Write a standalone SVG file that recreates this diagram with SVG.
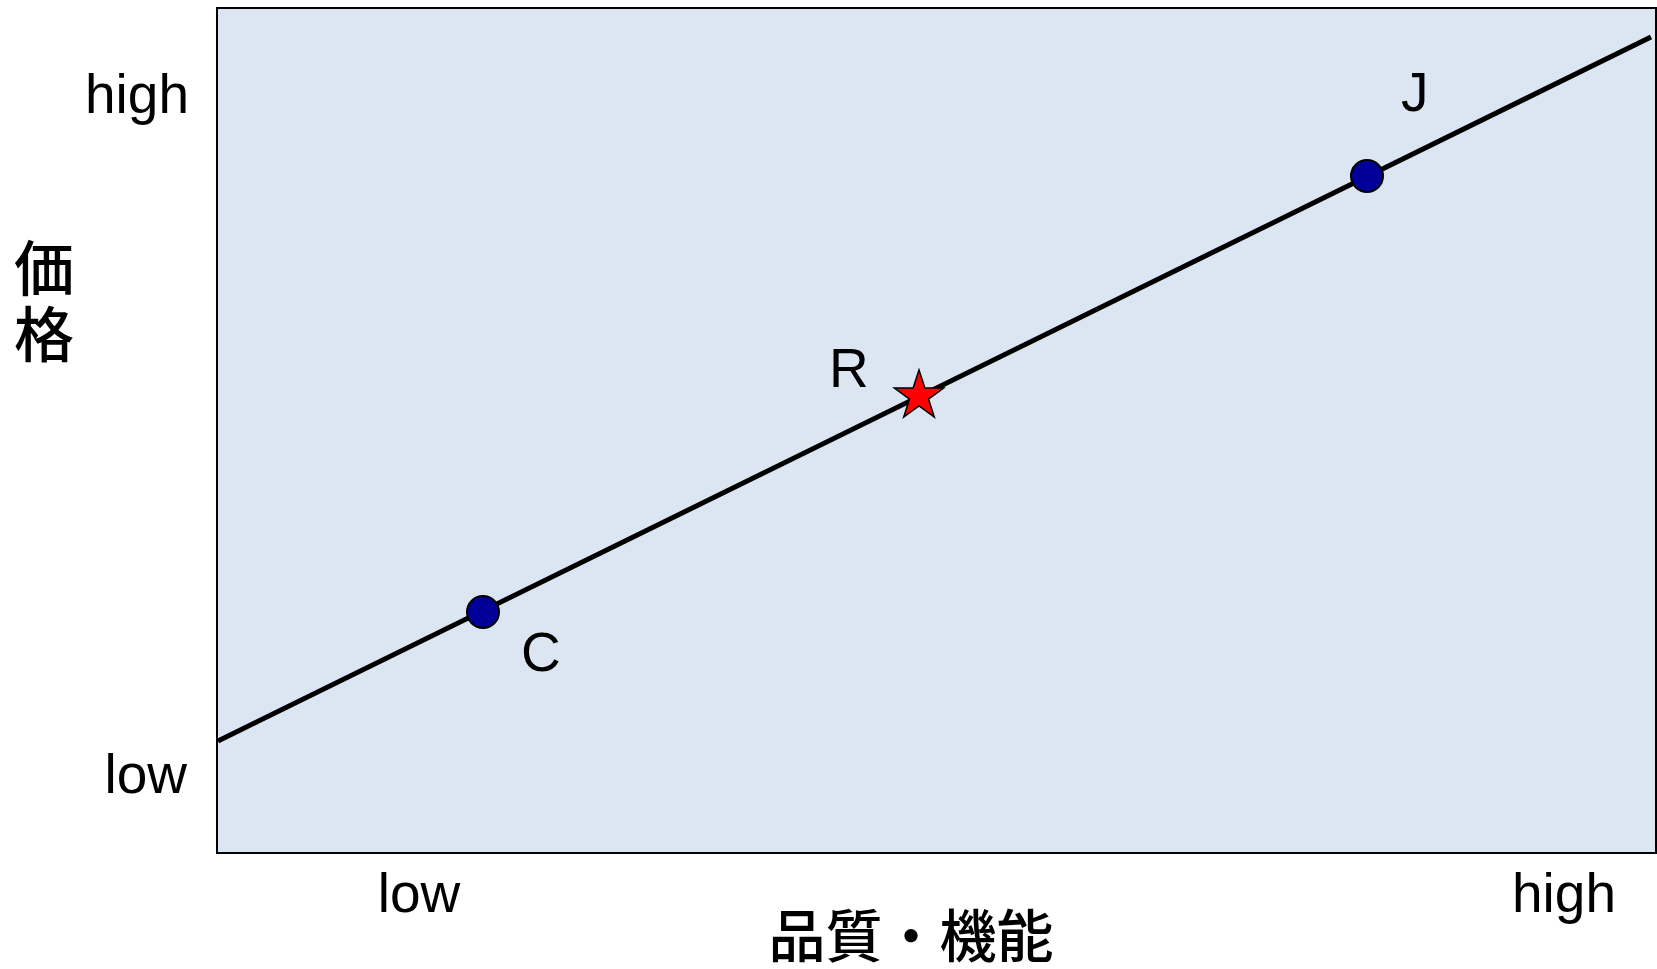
<svg xmlns="http://www.w3.org/2000/svg" width="1657" height="969" viewBox="0 0 1657 969">
<style>
.lat{font-family:"Liberation Sans",Arial,sans-serif;font-size:55px;fill:#000}
.cjk{font-family:"Noto Sans CJK JP","Noto Sans CJK SC",sans-serif;font-weight:500;fill:#000}
.pt{fill:#000099;stroke:#000;stroke-width:2}
</style>
<rect id="plot" x="217" y="8" width="1439" height="845" fill="#dce6f2" stroke="#000" stroke-width="2"/>
<g id="connectors">
<line x1="218" y1="741" x2="1651" y2="37" stroke="#000" stroke-width="5"/>
</g>
<g id="node-C"><circle class="pt" cx="483" cy="612" r="16"/><text class="lat" x="521" y="671">C</text></g>
<g id="node-J"><circle class="pt" cx="1367" cy="176" r="16"/><text class="lat" x="1401" y="111">J</text></g>
<g id="node-R"><polygon fill="#ff0000" stroke="#000" stroke-width="1.5" points="919,370 924.9,387.9 943.7,388 928.5,399.1 934.3,417 919,406 903.7,417 909.5,399.1 894.3,388 913.1,387.9"/><text class="lat" x="829" y="387">R</text></g>
<g id="axes">
<text class="lat" x="189" y="113" text-anchor="end">high</text>
<text class="lat" x="187" y="793" text-anchor="end">low</text>
<text class="lat" x="419" y="912" text-anchor="middle">low</text>
<text class="lat" x="1564" y="912" text-anchor="middle">high</text>
<text class="cjk" x="44" y="291" font-size="60" text-anchor="middle">価</text>
<text class="cjk" x="44" y="357" font-size="60" text-anchor="middle">格</text>
<text class="cjk" x="911" y="957" font-size="57" text-anchor="middle">品質・機能</text>
</g>
</svg>
